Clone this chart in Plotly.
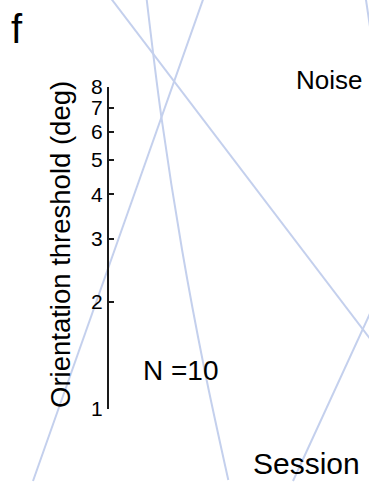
import plotly.graph_objects as go
import math

# ---- data (session position, orientation threshold in deg) ----
line_a_session = [2.87, 10.16]
line_a_thresh = [14.8, 1.51]

line_b_session = [3.951, 4.377, 4.935, 5.528, 6.187]
line_b_thresh = [14.8, 6.55, 2.792, 1.311, 0.632]

line_c_session = [0.894, 5.577]
line_c_thresh = [0.628, 14.8]

line_d_session = [7.94, 10.16]
line_d_thresh = [0.628, 1.987]

line_e_session = [9.886, 10.16]
line_e_thresh = [14.8, 9.52]

tick_vals = [1, 2, 3, 4, 5, 6, 7, 8]
tick_text = ["1", "2", "3", "4", "5", "6", "7", "8"]

W, H = 369, 487
FONT = "Liberation Sans, Arial, Helvetica, sans-serif"
LINE_COLOR = "#c4d0ed"

fig = go.Figure()

fig.add_trace(go.Scatter(x=[None], y=[None], xaxis="x2", yaxis="y2",
                         showlegend=False, hoverinfo="skip"))

for xs, ys, shape in [
    (line_a_session, line_a_thresh, "linear"),
    (line_b_session, line_b_thresh, "spline"),
    (line_c_session, line_c_thresh, "linear"),
    (line_d_session, line_d_thresh, "linear"),
    (line_e_session, line_e_thresh, "linear"),
]:
    fig.add_trace(go.Scatter(x=xs, y=ys, mode="lines",
                             line=dict(color=LINE_COLOR, width=2, shape=shape),
                             xaxis="x", yaxis="y", showlegend=False,
                             hoverinfo="skip"))

y1_px, y8_px, spine_x = 409, 87, 108
px_per_dec = (y1_px - y8_px) / math.log10(8)
ymax_log = y1_px / px_per_dec
ymin_log = -(H - y1_px) / px_per_dec

fig.update_layout(
    width=W, height=H,
    margin=dict(l=0, r=0, t=0, b=0, pad=0, autoexpand=False),
    paper_bgcolor="white", plot_bgcolor="rgba(0,0,0,0)",
    font=dict(family=FONT, color="black"),
    xaxis=dict(domain=[0, 1], range=[0, 10], visible=False),
    yaxis=dict(domain=[0, 1], type="log", range=[ymin_log, ymax_log], visible=False),
    xaxis2=dict(domain=[0, 1], range=[0, 1], visible=False, anchor="y2"),
    yaxis2=dict(
        type="linear", anchor="free", position=spine_x / W,
        side="left", automargin=False,
        domain=[(H - y1_px) / H, (H - y8_px) / H],
        range=[0, math.log10(8)],
        showline=True, linewidth=2, linecolor="#1a1a1a",
        ticks="inside", ticklen=5, tickwidth=2, tickcolor="#1a1a1a",
        tickvals=[math.log10(v) for v in tick_vals], ticktext=tick_text,
        tickfont=dict(size=21, family=FONT, color="black"),
        ticklabelstandoff=0,
        showgrid=False, zeroline=False,
    ),
)

ann = [
    dict(text="f", x=17 / W, y=1 - 29 / H, size=40, angle=0),
    dict(text="Orientation threshold (deg)", x=61 / W, y=1 - 245 / H, size=27.5, angle=-90),
    dict(text="Noise", x=329 / W, y=1 - 80 / H, size=26, angle=0),
    dict(text="N =10", x=181 / W, y=1 - 370 / H, size=28, angle=0),
    dict(text="Session", x=306 / W, y=1 - 463 / H, size=30, angle=0),
]
for a in ann:
    fig.add_annotation(text=a["text"], x=a["x"], y=a["y"], xref="paper", yref="paper",
                       xanchor="center", yanchor="middle", showarrow=False,
                       textangle=a["angle"],
                       font=dict(size=a["size"], family=FONT, color="black"))

fig.write_html("out.html")
